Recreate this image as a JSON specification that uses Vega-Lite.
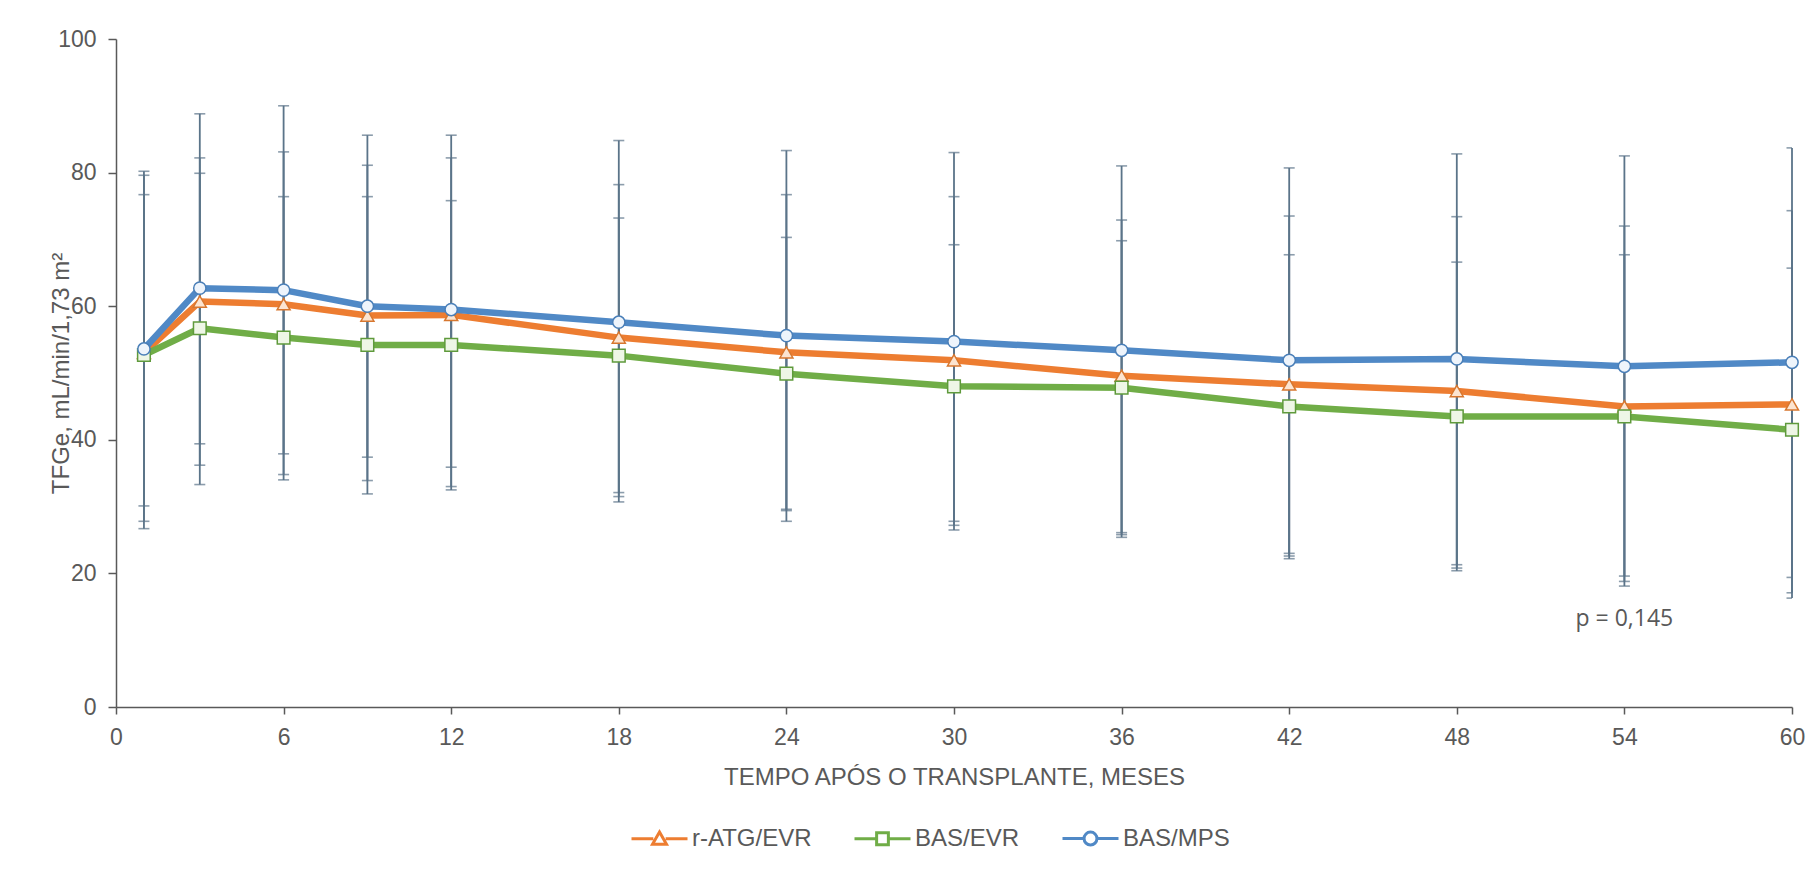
{
  "$schema": "https://vega.github.io/schema/vega-lite/v6.json",
  "autosize": {"type": "none"},
  "width": 1676,
  "height": 668,
  "padding": {"left": 116, "top": 39, "right": 26, "bottom": 168},
  "background": "white",
  "config": {
    "view": {"stroke": null},
    "font": "Liberation Sans",
    "axis": {
      "grid": false,
      "domainColor": "#595959",
      "domainWidth": 1.5,
      "tickColor": "#595959",
      "tickWidth": 1.5,
      "labelColor": "#595959",
      "labelFont": "Liberation Sans",
      "labelFontSize": 23,
      "titleColor": "#595959",
      "titleFont": "Liberation Sans",
      "titleFontSize": 24,
      "titleFontWeight": "normal"
    }
  },
  "datasets": {
    "tfg": [
      {"s": "r-ATG/EVR", "m": 1, "v": 53.0, "lo": 30.1, "hi": 76.7},
      {"s": "r-ATG/EVR", "m": 3, "v": 60.7, "lo": 39.4, "hi": 82.2},
      {"s": "r-ATG/EVR", "m": 6, "v": 60.3, "lo": 37.9, "hi": 83.1},
      {"s": "r-ATG/EVR", "m": 9, "v": 58.6, "lo": 37.4, "hi": 81.1},
      {"s": "r-ATG/EVR", "m": 12, "v": 58.7, "lo": 35.9, "hi": 82.2},
      {"s": "r-ATG/EVR", "m": 18, "v": 55.3, "lo": 32.1, "hi": 78.2},
      {"s": "r-ATG/EVR", "m": 24, "v": 53.1, "lo": 29.6, "hi": 76.7},
      {"s": "r-ATG/EVR", "m": 30, "v": 51.9, "lo": 27.8, "hi": 76.4},
      {"s": "r-ATG/EVR", "m": 36, "v": 49.6, "lo": 26.1, "hi": 72.9},
      {"s": "r-ATG/EVR", "m": 42, "v": 48.3, "lo": 23.0, "hi": 73.5},
      {"s": "r-ATG/EVR", "m": 48, "v": 47.3, "lo": 20.4, "hi": 73.4},
      {"s": "r-ATG/EVR", "m": 54, "v": 45.0, "lo": 18.1, "hi": 72.0},
      {"s": "r-ATG/EVR", "m": 60, "v": 45.3, "lo": 16.3, "hi": 74.3},
      {"s": "BAS/EVR", "m": 1, "v": 52.7, "lo": 27.8, "hi": 79.6},
      {"s": "BAS/EVR", "m": 3, "v": 56.7, "lo": 33.3, "hi": 79.9},
      {"s": "BAS/EVR", "m": 6, "v": 55.3, "lo": 34.0, "hi": 76.4},
      {"s": "BAS/EVR", "m": 9, "v": 54.2, "lo": 31.9, "hi": 76.4},
      {"s": "BAS/EVR", "m": 12, "v": 54.2, "lo": 32.5, "hi": 75.8},
      {"s": "BAS/EVR", "m": 18, "v": 52.6, "lo": 31.5, "hi": 73.2},
      {"s": "BAS/EVR", "m": 24, "v": 49.9, "lo": 29.4, "hi": 70.3},
      {"s": "BAS/EVR", "m": 30, "v": 48.0, "lo": 27.2, "hi": 69.2},
      {"s": "BAS/EVR", "m": 36, "v": 47.8, "lo": 25.8, "hi": 69.8},
      {"s": "BAS/EVR", "m": 42, "v": 45.0, "lo": 22.6, "hi": 67.7},
      {"s": "BAS/EVR", "m": 48, "v": 43.5, "lo": 20.8, "hi": 66.6},
      {"s": "BAS/EVR", "m": 54, "v": 43.5, "lo": 18.8, "hi": 67.7},
      {"s": "BAS/EVR", "m": 60, "v": 41.5, "lo": 17.1, "hi": 65.7},
      {"s": "BAS/MPS", "m": 1, "v": 53.6, "lo": 26.7, "hi": 80.2},
      {"s": "BAS/MPS", "m": 3, "v": 62.7, "lo": 36.2, "hi": 88.8},
      {"s": "BAS/MPS", "m": 6, "v": 62.4, "lo": 34.8, "hi": 90.0},
      {"s": "BAS/MPS", "m": 9, "v": 60.0, "lo": 33.9, "hi": 85.6},
      {"s": "BAS/MPS", "m": 12, "v": 59.5, "lo": 33.0, "hi": 85.6},
      {"s": "BAS/MPS", "m": 18, "v": 57.6, "lo": 30.7, "hi": 84.8},
      {"s": "BAS/MPS", "m": 24, "v": 55.6, "lo": 27.8, "hi": 83.3},
      {"s": "BAS/MPS", "m": 30, "v": 54.7, "lo": 26.5, "hi": 83.0},
      {"s": "BAS/MPS", "m": 36, "v": 53.4, "lo": 25.4, "hi": 81.0},
      {"s": "BAS/MPS", "m": 42, "v": 51.9, "lo": 22.2, "hi": 80.7},
      {"s": "BAS/MPS", "m": 48, "v": 52.1, "lo": 21.3, "hi": 82.8},
      {"s": "BAS/MPS", "m": 54, "v": 51.0, "lo": 19.6, "hi": 82.5},
      {"s": "BAS/MPS", "m": 60, "v": 51.6, "lo": 19.4, "hi": 83.7}
    ],
    "pv": [{"m": 54, "v": 13.1, "t": "p = 0,145"}]
  },
  "data": {"name": "tfg"},
  "layer": [
    {
      "mark": {"type": "rule", "color": "#5b7489", "strokeWidth": 1.8},
      "encoding": {
        "x": {"field": "m", "type": "quantitative", "scale": {"domain": [0, 60], "nice": false},
          "axis": {"values": [0, 6, 12, 18, 24, 30, 36, 42, 48, 54, 60], "title": "TEMPO APÓS O TRANSPLANTE,  MESES", "tickSize": 7, "labelPadding": 12, "titlePadding": 16, "labelFlush": false}},
        "y": {"field": "lo", "type": "quantitative", "scale": {"domain": [0, 100], "nice": false},
          "title": "TFGe, mL/min/1,73 m²",
          "axis": {"values": [0, 20, 40, 60, 80, 100], "tickSize": 8, "labelPadding": 12, "titleX": -48, "titleY": 334, "titleAngle": 270, "titleAlign": "center", "titleBaseline": "alphabetic"}},
        "y2": {"field": "hi"}
      }
    },
    {
      "mark": {"type": "tick", "orient": "horizontal", "color": "#5b7489", "size": 11, "thickness": 1.6, "clip": true},
      "encoding": {
        "x": {"field": "m", "type": "quantitative"},
        "y": {"field": "lo", "type": "quantitative", "title": "TFGe, mL/min/1,73 m²"}
      }
    },
    {
      "mark": {"type": "tick", "orient": "horizontal", "color": "#5b7489", "size": 11, "thickness": 1.6, "clip": true},
      "encoding": {
        "x": {"field": "m", "type": "quantitative"},
        "y": {"field": "hi", "type": "quantitative", "title": "TFGe, mL/min/1,73 m²"}
      }
    },
    {
      "transform": [{"filter": "datum.s === 'r-ATG/EVR'"}],
      "mark": {"type": "line", "strokeWidth": 6.5, "strokeJoin": "round", "color": "#ED7D31"},
      "encoding": {
        "x": {"field": "m", "type": "quantitative"},
        "y": {"field": "v", "type": "quantitative", "title": "TFGe, mL/min/1,73 m²"}
      }
    },
    {
      "transform": [{"filter": "datum.s === 'r-ATG/EVR'"}],
      "mark": {"type": "point", "shape": "triangle-up", "filled": true, "fill": "#fce4d0", "stroke": "#d7772f", "strokeWidth": 1.5, "size": 170, "opacity": 1},
      "encoding": {
        "x": {"field": "m", "type": "quantitative"},
        "y": {"field": "v", "type": "quantitative", "title": "TFGe, mL/min/1,73 m²"}
      }
    },
    {
      "transform": [{"filter": "datum.s === 'BAS/EVR'"}],
      "mark": {"type": "line", "strokeWidth": 6.5, "strokeJoin": "round", "color": "#70AD47"},
      "encoding": {
        "x": {"field": "m", "type": "quantitative"},
        "y": {"field": "v", "type": "quantitative", "title": "TFGe, mL/min/1,73 m²"}
      }
    },
    {
      "transform": [{"filter": "datum.s === 'BAS/EVR'"}],
      "mark": {"type": "point", "shape": "square", "filled": true, "fill": "#eef6e6", "stroke": "#5f9a3c", "strokeWidth": 1.5, "size": 160, "opacity": 1},
      "encoding": {
        "x": {"field": "m", "type": "quantitative"},
        "y": {"field": "v", "type": "quantitative", "title": "TFGe, mL/min/1,73 m²"}
      }
    },
    {
      "transform": [{"filter": "datum.s === 'BAS/MPS'"}],
      "mark": {"type": "line", "strokeWidth": 6.5, "strokeJoin": "round", "color": "#5089C6"},
      "encoding": {
        "x": {"field": "m", "type": "quantitative"},
        "y": {"field": "v", "type": "quantitative", "title": "TFGe, mL/min/1,73 m²"}
      }
    },
    {
      "transform": [{"filter": "datum.s === 'BAS/MPS'"}],
      "mark": {"type": "point", "shape": "circle", "filled": true, "fill": "#eef4fb", "stroke": "#4a7fb8", "strokeWidth": 1.5, "size": 150, "opacity": 1},
      "encoding": {
        "x": {"field": "m", "type": "quantitative"},
        "y": {"field": "v", "type": "quantitative", "title": "TFGe, mL/min/1,73 m²"}
      }
    },
    {
      "data": {"name": "pv"},
      "mark": {"type": "text", "font": "Open Sans", "fontSize": 23, "color": "#595959", "align": "center", "baseline": "middle"},
      "encoding": {
        "x": {"field": "m", "type": "quantitative"},
        "y": {"field": "v", "type": "quantitative", "title": "TFGe, mL/min/1,73 m²"},
        "text": {"field": "t"}
      }
    },
    {
      "mark": {"type": "point", "filled": true, "fill": "white", "opacity": 0, "strokeWidth": 3},
      "encoding": {
        "x": {"field": "m", "type": "quantitative"},
        "y": {"field": "v", "type": "quantitative", "title": "TFGe, mL/min/1,73 m²"},
        "stroke": {"field": "s", "type": "nominal", "scale": {"domain": ["r-ATG/EVR", "BAS/EVR", "BAS/MPS"], "range": ["#ED7D31", "#70AD47", "#5089C6"]},
          "legend": {"orient": "none", "legendX": 514, "legendY": 770, "direction": "horizontal", "title": null, "symbolSize": 3136, "symbolStrokeWidth": 3, "symbolOpacity": 1, "symbolFillColor": "white", "labelFontSize": 24, "labelColor": "#595959", "labelFont": "Liberation Sans", "labelOffset": 3, "columnPadding": 36, "padding": 0}},
        "shape": {"field": "s", "type": "nominal", "scale": {"domain": ["r-ATG/EVR", "BAS/EVR", "BAS/MPS"], "range": ["M-1,0H-0.22M0.22,0H1M0,-0.24L0.25,0.2H-0.25Z", "M-1,0H-0.22M0.22,0H1M-0.21,-0.21H0.21V0.21H-0.21Z", "M-1,0H-0.23M0.23,0H1M0.23,0A0.23,0.23 0 1 1 -0.23,0A0.23,0.23 0 1 1 0.23,0Z"]},
          "legend": {"orient": "none", "legendX": 514, "legendY": 770, "direction": "horizontal", "title": null, "symbolSize": 3136, "symbolStrokeWidth": 3, "symbolOpacity": 1, "symbolFillColor": "white", "labelFontSize": 24, "labelColor": "#595959", "labelFont": "Liberation Sans", "labelOffset": 3, "columnPadding": 36, "padding": 0}}
      }
    }
  ]
}
